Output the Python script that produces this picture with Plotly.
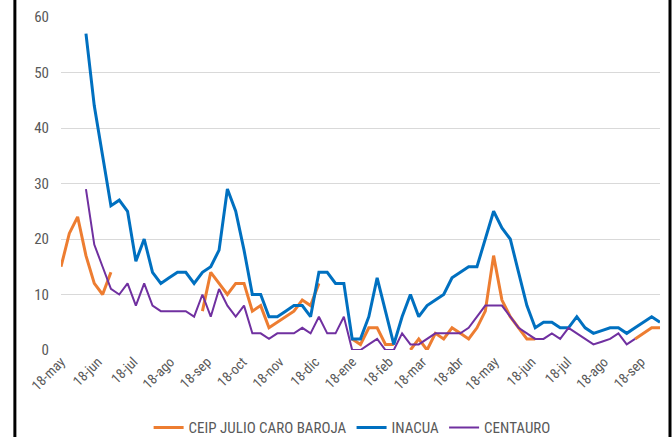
import plotly.graph_objects as go
import pandas as pd

N = None
weeks = pd.date_range("2017-05-18", periods=73, freq="7D")

ceip = [15, 21, 24, 17, 12, 10, 14, N, N, N,
        N, N, N, N, N, N, N, 7, 14, 12,
        10, 12, 12, 7, 8, 4, 5, 6, 7, 9,
        8, 12, N, N, N, 2, 1, 4, 4, 1,
        1, N, 0, 2, 0, 3, 2, 4, 3, 2,
        4, 7, 17, 9, 6, 4, 2, 2, N, N,
        N, N, N, N, N, N, N, N, N, 2,
        3, 4, 4]

inacua = [N, N, N, 57, 44, 35, 26, 27, 25, 16,
          20, 14, 12, 13, 14, 14, 12, 14, 15, 18,
          29, 25, 18, 10, 10, 6, 6, 7, 8, 8,
          6, 14, 14, 12, 12, 2, 2, 6, 13, 7,
          1, 6, 10, 6, 8, 9, 10, 13, 14, 15,
          15, 20, 25, 22, 20, 14, 8, 4, 5, 5,
          4, 4, 6, 4, 3, 3.5, 4, 4, 3, 4,
          5, 6, 5]

centauro = [N, N, N, 29, 19, 15, 11, 10, 12, 8,
            12, 8, 7, 7, 7, 7, 6, 10, 6, 11,
            8, 6, 8, 3, 3, 2, 3, 3, 3, 4,
            3, 6, 3, 3, 6, 0, 0, 1, 2, 0,
            0, 3, 1, 1, 2, 3, 3, 3, 3, 4,
            6, 8, 8, 8, 6, 4, 3, 2, 2, 3,
            2, 4, 3, 2, 1, 1.5, 2, 3, 1, 2,
            N, N, N]

tick_dates = ["2017-05-18", "2017-06-18", "2017-07-18", "2017-08-18", "2017-09-18",
              "2017-10-18", "2017-11-18", "2017-12-18", "2018-01-18", "2018-02-18",
              "2018-03-18", "2018-04-18", "2018-05-18", "2018-06-18", "2018-07-18",
              "2018-08-18", "2018-09-18"]
tick_text = ["18-may", "18-jun", "18-jul", "18-ago", "18-sep", "18-oct", "18-nov",
             "18-dic", "18-ene", "18-feb", "18-mar", "18-abr", "18-may", "18-jun",
             "18-jul", "18-ago", "18-sep"]

series = [
    ("CEIP JULIO CARO BAROJA", ceip, "#ED7D31", 3),
    ("INACUA", inacua, "#0070C0", 3),
    ("CENTAURO", centauro, "#7030A0", 2),
]

FONT = "Liberation Sans Narrow, Arial Narrow, Roboto Condensed, Arial, sans-serif"

fig = go.Figure()
for name, vals, color, w in series:
    fig.add_trace(go.Scatter(x=weeks, y=vals, name=name, mode="lines",
                             line=dict(color=color, width=w), connectgaps=False))

fig.update_layout(
    width=672, height=437,
    margin=dict(l=61, r=12, t=17, b=87, autoexpand=False),
    paper_bgcolor="white", plot_bgcolor="white",
    font=dict(family=FONT, size=13, color="#595959"),
    showlegend=True,
    legend=dict(orientation="h", x=0.486, xanchor="center",
                yref="container", y=0.021, yanchor="middle",
                font=dict(size=15, color="#595959"), itemwidth=30, tracegroupgap=0),
    xaxis=dict(type="date", range=[weeks[0], weeks[-1]], automargin=False,
               tickvals=tick_dates, ticktext=tick_text, tickangle=-45,
               showgrid=False, showline=False, zeroline=False, ticks="",
               tickfont=dict(size=14, color="#595959")),
    yaxis=dict(range=[0, 60], dtick=10, showgrid=True, gridcolor="#d9d9d9", gridwidth=1,
               zeroline=False, showline=False, ticks="", ticklabelstandoff=11,
               automargin=False, tickfont=dict(size=15, color="#595959")),
)

# black frame edges of the cropped picture
fig.add_shape(type="line", xref="paper", yref="paper", x0=-0.077, x1=-0.077, y0=-0.3, y1=1.1,
              line=dict(color="black", width=3))
fig.add_shape(type="line", xref="paper", yref="paper", x0=1.0167, x1=1.0167, y0=-0.3, y1=1.1,
              line=dict(color="black", width=3))

fig.write_html("out.html", config={"displayModeBar": False},
               post_script="document.body.style.margin='0px';")
